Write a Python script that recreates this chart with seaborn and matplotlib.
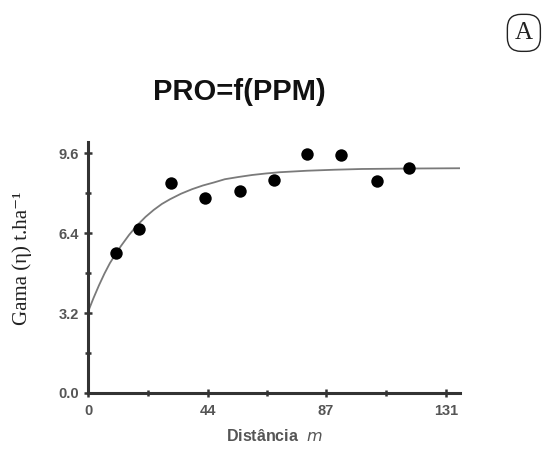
import pandas as pd
import matplotlib.pyplot as plt
import seaborn as sns

# observed points
dist = [10.2, 18.7, 30.5, 42.6, 55.4, 68.0, 80.2, 92.5, 105.6, 117.3]
gama = [5.59, 6.56, 8.39, 7.81, 8.09, 8.52, 9.59, 9.55, 8.48, 8.99]

# fitted curve
curve_x = [0, 2, 4, 6, 8, 10, 12, 15, 18, 21, 24, 27, 30, 34, 38, 42, 46,
           50, 55, 60, 65, 70, 80, 90, 100, 110, 120, 136]
curve_y = [3.25, 3.80, 4.31, 4.78, 5.20, 5.55, 5.88, 6.33, 6.72, 7.05, 7.33,
           7.57, 7.76, 7.98, 8.16, 8.31, 8.43, 8.56, 8.65, 8.73, 8.79, 8.84,
           8.90, 8.94, 8.97, 8.98, 8.99, 9.0]

x_ticks = [0, 44, 87, 131]
x_minor = [22, 65.5, 109]
y_ticks = [0.0, 3.2, 6.4, 9.6]
y_minor = [1.6, 4.8, 8.0]

sns.set_style("ticks")
plt.rcParams["font.family"] = ["Liberation Sans", "DejaVu Sans"]

fig = plt.figure(figsize=(5.44, 4.5), dpi=100)
ax = fig.add_axes([0.1618, 0.1267, 0.684, 0.5577])

pts = pd.DataFrame({"x": dist, "y": gama})
fit = pd.DataFrame({"x": curve_x, "y": curve_y})

sns.lineplot(data=fit, x="x", y="y", ax=ax, color="#7a7a7a", linewidth=1.3)
sns.scatterplot(data=pts, x="x", y="y", ax=ax, color="black", s=80,
                edgecolor="black", linewidth=0, zorder=3)

ax.set_xlim(0, 136)
ax.set_ylim(0, 10.05)
ax.set_xticks(x_ticks)
ax.set_xticks(x_minor, minor=True)
ax.set_yticks(y_ticks)
ax.set_yticks(y_minor, minor=True)
ax.set_xticklabels([str(t) for t in x_ticks])
ax.set_yticklabels([f"{t:.1f}" for t in y_ticks])

sns.despine(ax=ax)
for side in ["left", "bottom"]:
    ax.spines[side].set_color("#333333")
    ax.spines[side].set_linewidth(2.2)
ax.tick_params(which="both", direction="inout", color="#333333", width=1.8,
               labelcolor="#555555", labelsize=10.5)
ax.tick_params(which="major", length=6)
ax.tick_params(which="minor", length=5)
ax.tick_params(axis="x", pad=5)
for lab in ax.get_xticklabels() + ax.get_yticklabels():
    lab.set_fontweight("bold")

ax.set_xlabel("Distância  $m$", fontsize=11.5, color="#555555",
              fontweight="bold", labelpad=7)
ax.set_ylabel("Gama (η) t.ha⁻¹", fontsize=15, color="#222222",
              family=["Liberation Serif", "DejaVu Serif"])
ax.yaxis.set_label_coords(-0.15, 0.535)

fig.text(0.44, 0.796, "PRO=f(PPM)", ha="center", va="center", fontsize=21,
         fontweight="bold", color="#111111")
fig.text(0.963, 0.927, "A", ha="center", va="center", fontsize=18,
         family=["Liberation Serif", "DejaVu Serif"], color="#222222",
         bbox=dict(boxstyle="round,pad=0.3,rounding_size=0.55",
                   facecolor="white", edgecolor="#222222", linewidth=1.0))

fig.savefig("out.png", dpi=100)
